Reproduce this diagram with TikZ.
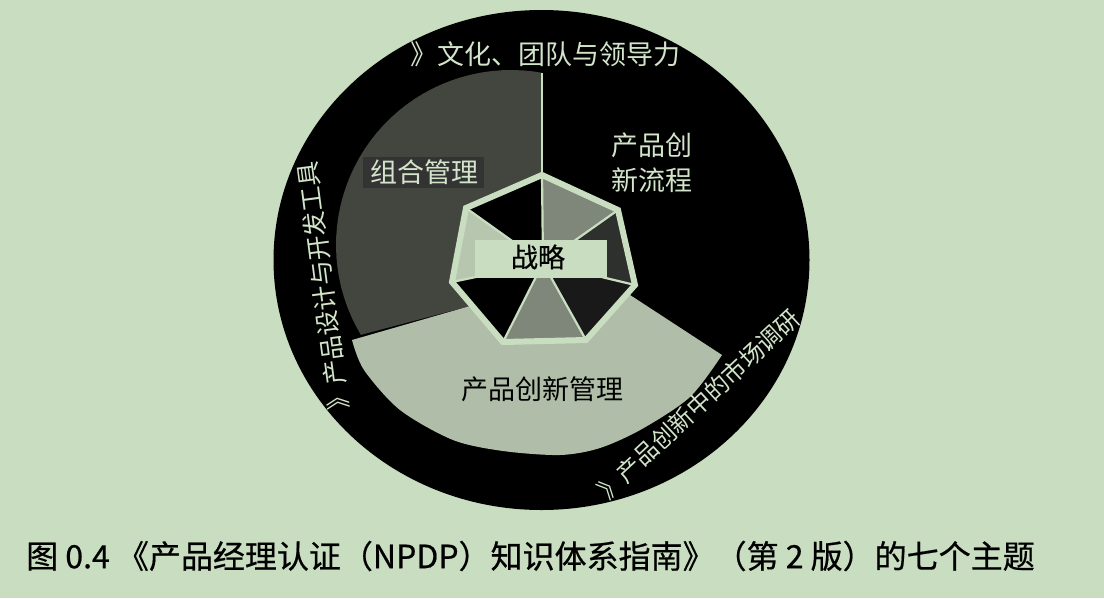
\documentclass[tikz,border=0pt]{standalone}
\usepackage{fontspec}
\newfontfamily\cjk{Noto Sans CJK SC}
\newfontfamily\cjkb[FakeBold=0.6]{Noto Sans CJK SC}
\definecolor{bg}{HTML}{C9DDC1}
\definecolor{ltxt}{HTML}{D2E4CA}
\definecolor{darkgray}{HTML}{42463F}
\definecolor{lightsec}{HTML}{B0BEA9}
\definecolor{midtri}{HTML}{7E8779}
\definecolor{darktri}{HTML}{2E302D}
\definecolor{lighttri}{HTML}{B7C6AF}
\begin{document}
\begin{tikzpicture}[x=1pt,y=-1pt,
  lt/.style={text=ltxt, inner sep=0pt, anchor=center},
  dk/.style={text=black, inner sep=0pt, anchor=center},
  spoke/.style={draw=bg, line width=2.2pt},
  sz/.style={font=\cjk\fontsize{#1}{#1}\selectfont},
  szb/.style={font=\cjkb\fontsize{#1}{#1}\selectfont}]
\useasboundingbox (0,0) rectangle (1104,598);
\fill[bg] (0,0) rectangle (1104,598);
% outer black disc
\fill[black] (541.5,260) ellipse [x radius=268, y radius=250];
% named points
\coordinate (C) at (543,263);
\coordinate (V0) at (542,175);
\coordinate (V1) at (618,210);
\coordinate (V2) at (635,285);
\coordinate (V3) at (586,340);
\coordinate (V4) at (503,342);
\coordinate (V5) at (452,282);
\coordinate (V6) at (466,208);
\coordinate (T) at (542,73);
\coordinate (GL) at (470,306);
\coordinate (LR) at (627,293);
% dark gray sector
\fill[darkgray] (C) -- (T) -- plot[domain=79.5:210.9, samples=40] ({511+175*cos(\x)},{245-175*sin(\x)}) -- (GL) -- cycle;
% dark box behind label
\fill[black!80] (363,157) rectangle (484,188);
% light sector
\fill[lightsec] (C) -- (GL) -- (352,340) -- plot[smooth] coordinates {(352,340) (364,370) (400,410) (453,440) (503,451) (560,455) (600,448) (642,429) (690,397) (722,355)} -- (LR) -- cycle;
% vertical light line
\draw[bg, line width=2pt] (T) -- (V0);
% heptagon triangles
\fill[midtri]  (C) -- (V0) -- (V1) -- cycle;
\fill[darktri] (C) -- (V1) -- (V2) -- cycle;
\fill[black!90] (C) -- (V2) -- (V3) -- cycle;
\fill[midtri]  (C) -- (V3) -- (V4) -- cycle;
\fill[black]   (C) -- (V4) -- (V5) -- cycle;
\fill[lighttri] (C) -- (V5) -- (V6) -- cycle;
\fill[black]   (C) -- (V6) -- (V0) -- cycle;
\foreach \v in {V0,V1,V2,V3,V4,V5,V6} \draw[spoke] (C) -- (\v);
% band
\fill[bg] (475,240) rectangle (607,278);
% heptagon outline
\draw[bg, line width=6pt, line join=miter] (V0) -- (V1) -- (V2) -- (V3) -- (V4) -- (V5) -- (V6) -- cycle;
% texts
\node[lt, sz=27] (culture) at (545,54) {》文化、团队与领导力};
\node[lt, sz=27] (portfolio) at (424,172) {组合管理};
\node[lt, align=center, font=\cjk\fontsize{27}{35}\selectfont] (process) at (652,163) {产品创\\新流程};
\node[dk, szb=27] (strategy) at (538,257) {战略};
\node[dk, sz=27] (mgmt) at (542,389) {产品创新管理};
\node[lt, sz=25, rotate=97.5] (tools) at (323,286) {》产品设计与开发工具};
\node[lt, sz=24, rotate=43] (research) at (699,404) {》产品创新中的市场调研};
\node[dk, szb=32, anchor=west] (caption) at (26,556) {图 0.4 《产品经理认证（NPDP）知识体系指南》（第 2 版）的七个主题};
\end{tikzpicture}
\end{document}
